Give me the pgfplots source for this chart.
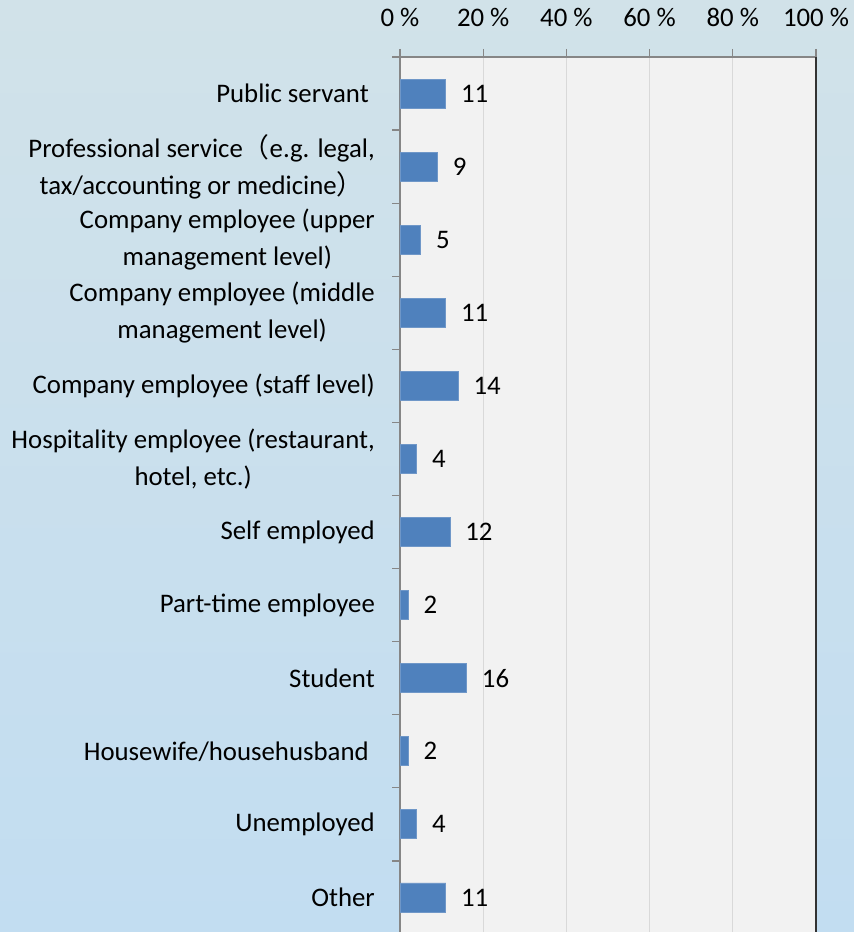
\documentclass[border=0pt]{standalone}
\usepackage{pgfplots}
\pgfplotsset{compat=1.18}
\usepackage{fontspec}
\setmainfont{Carlito}
\newfontfamily\cjk{Noto Sans CJK JP}
\definecolor{barblue}{HTML}{4F81BD}
\definecolor{baredge}{HTML}{6F97C8}
\definecolor{plotbg}{HTML}{F2F2F2}
\definecolor{gridc}{HTML}{D9D9D9}
\definecolor{axgray}{HTML}{868686}
\definecolor{bgtop}{HTML}{D1E2E9}
\definecolor{bgbot}{HTML}{C2DDF1}
\newcommand\lbl{\fontsize{26.8bp}{37bp}\selectfont}
\begin{document}
\lbl
\begin{tikzpicture}
\shade[top color=bgtop, bottom color=bgbot] (0bp,0bp) rectangle (854bp,932bp);
\begin{axis}[
  at={(400bp,-2bp)}, anchor=south west,
  scale only axis, width=416bp, height=877bp,
  xbar, bar width=29bp,
  xmin=0, xmax=100, ymin=-0.5, ymax=11.5, y dir=reverse,
  axis background/.style={fill=plotbg},
  axis line style={draw=axgray, line width=1.2bp},
  xtick={0,20,40,60,80,100},
  xticklabels={0 \%,20 \%,40 \%,60 \%,80 \%,100 \%},
  xtick pos=upper, xticklabel pos=upper,
  ytick={0,...,11}, ytick pos=left,
  yticklabels={
    {Public servant\kern0.226em},
    {Professional service{\cjk （}e.g. legal,\\tax/accounting or medicine{\cjk ）}},
    {Company employee (upper\\management level)},
    {Company employee (middle\\management level)},
    {Company employee (staff level)},
    {Hospitality employee (restaurant,\\hotel, etc.)},
    {Self employed},
    {Part-time employee},
    {Student},
    {Housewife/househusband\kern0.226em},
    {Unemployed},
    {Other}},
  minor ytick={-0.5,0.5,...,11.5},
  tick align=outside, major tick length=8bp, minor tick length=8bp,
  tick style={draw=axgray, line width=1.2bp},
  every major y tick/.append style={draw=none},
  xmajorgrids, grid style={draw=gridc, line width=1.2bp},
  /pgf/number format/assume math mode=true,
  tick label style={font=\lbl, text=black},
  xticklabel style={inner sep=0pt, yshift=22bp},
  yticklabel style={align=center, anchor=east, inner sep=0pt, xshift=-17bp},
  nodes near coords, nodes near coords align=horizontal,
  every node near coord/.append style={anchor=west, inner sep=0pt, xshift=15bp,
    font=\lbl, text=black},
  clip=false,
]
\addplot[fill=barblue, draw=baredge, line width=0.8bp] coordinates {
  (11,0) (9,1) (5,2) (11,3) (14,4) (4,5) (12,6) (2,7) (16,8) (2,9) (4,10) (11,11)
};
\draw[draw=black!80, line width=1.6bp] (rel axis cs:1,0) -- (rel axis cs:1,1);
\end{axis}
\pgfresetboundingbox
\useasboundingbox (0bp,0bp) rectangle (854bp,932bp);
\end{tikzpicture}
\end{document}
